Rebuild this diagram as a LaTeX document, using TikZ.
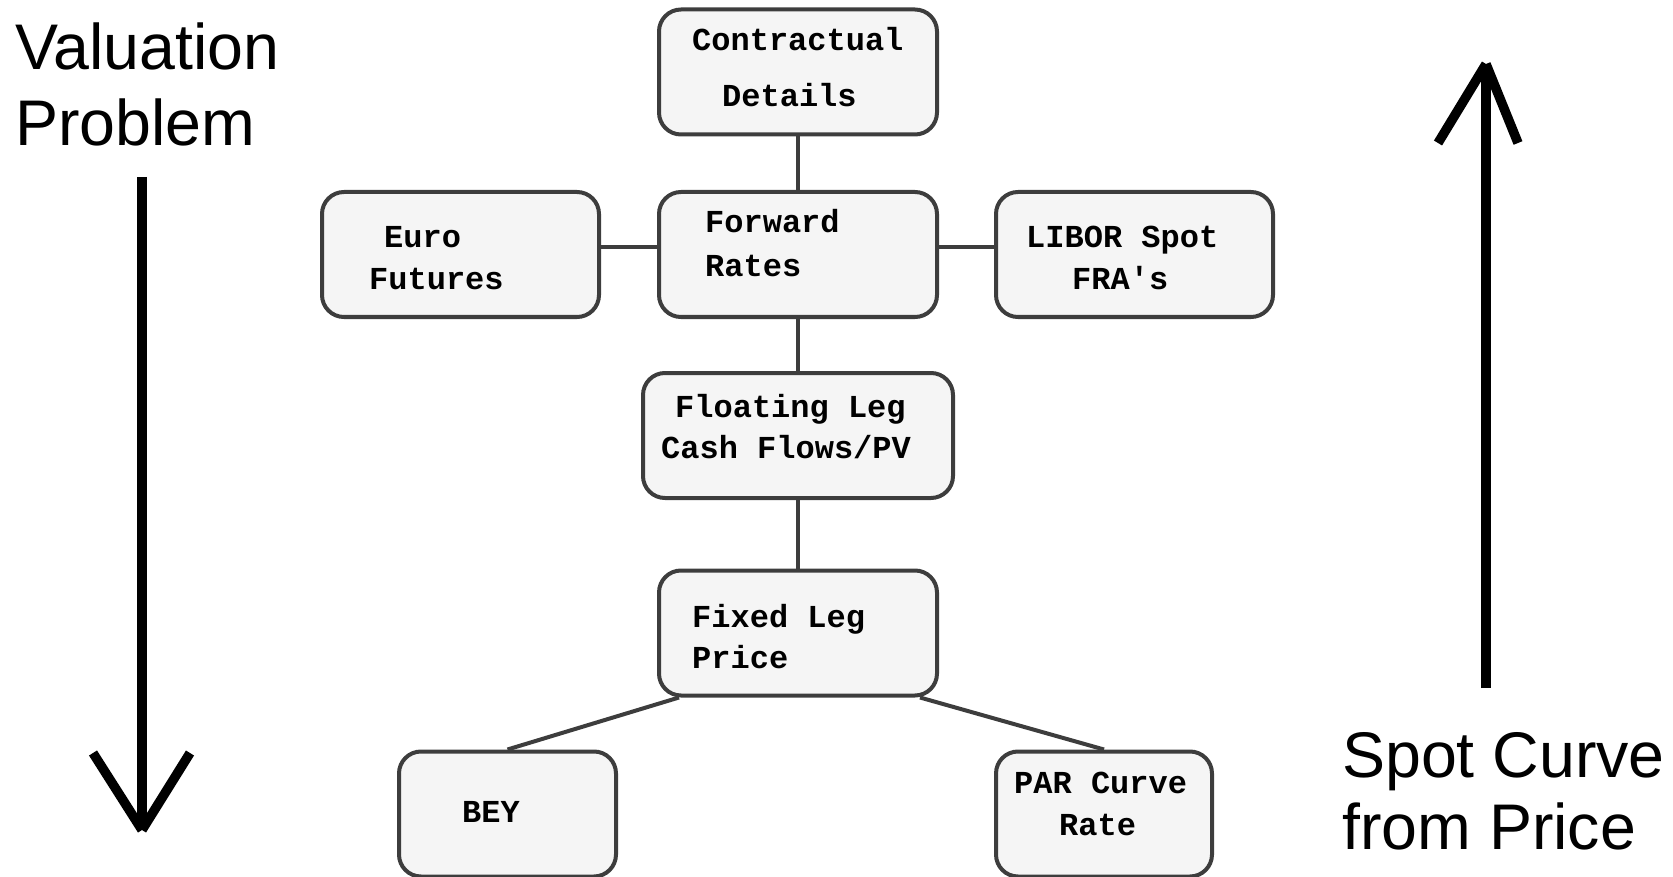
\documentclass[tikz,border=0pt]{standalone}
\usepackage{fontspec}
\setmainfont{Liberation Sans}
\newfontfamily\boxfont{Liberation Mono}
\definecolor{edge}{HTML}{3D3D3D}
\definecolor{boxfill}{HTML}{F5F5F5}
\begin{document}
\begin{tikzpicture}[x=1pt,y=-1pt,
  stage/.style={draw=edge, fill=boxfill, line width=4pt, rounded corners=22pt,
    inner sep=0pt, minimum width=#1, minimum height=125pt},
  link/.style={draw=edge, line width=4pt},
  boxtxt/.style={anchor=base west, inner sep=0pt,
    font=\boxfont\bfseries\fontsize{32}{38}\selectfont},
  bigtxt/.style={anchor=base west, inner sep=0pt,
    font=\fontsize{64.5}{76}\selectfont},
  bigarrow/.style={line width=9.5pt, line cap=butt}]
\useasboundingbox (0,0) rectangle (1673,877);

% boxes
\node[stage=278pt] (contract) at (798,72) {};
\node[stage=277pt] (euro)     at (460.5,254.5) {};
\node[stage=278pt] (fwd)      at (798,254.5) {};
\node[stage=277pt] (libor)    at (1134.5,254.5) {};
\node[stage=310pt] (float)    at (798,435.5) {};
\node[stage=278pt] (fixed)    at (798,633) {};
\node[stage=217pt] (bey)      at (507.5,814) {};
\node[stage=216pt] (par)      at (1104,814) {};

% connectors
\draw[link] (contract.south) -- (fwd.north);
\draw[link] ([yshift=7pt]euro.east) -- ([yshift=7pt]fwd.west);
\draw[link] ([yshift=7pt]fwd.east) -- ([yshift=7pt]libor.west);
\draw[link] (fwd.south) -- (float.north);
\draw[link] (float.south) -- (fixed.north);
\draw[link] ([xshift=-119pt]fixed.south) -- (bey.north);
\draw[link] ([xshift=122pt]fixed.south) -- (par.north);

% box texts
\node[boxtxt] (contract-a) at (692,51)  {Contractual};
\node[boxtxt] (contract-b) at (722,107) {Details};
\node[boxtxt] (euro-a)     at (384,248) {Euro};
\node[boxtxt] (euro-b)     at (369,290) {Futures};
\node[boxtxt] (fwd-a)      at (705,233) {Forward};
\node[boxtxt] (fwd-b)      at (705,277) {Rates};
\node[boxtxt] (libor-a)    at (1026,248) {LIBOR Spot};
\node[boxtxt] (libor-b)    at (1072,290) {FRA's};
\node[boxtxt] (float-a)    at (675,417) {Floating Leg};
\node[boxtxt] (float-b)    at (661,458) {Cash Flows/PV};
\node[boxtxt] (fixed-a)    at (692,627) {Fixed Leg};
\node[boxtxt] (fixed-b)    at (692,668) {Price};
\node[boxtxt] (bey-a)      at (462,822) {BEY};
\node[boxtxt] (par-a)      at (1014,793) {PAR Curve};
\node[boxtxt] (par-b)      at (1059,835) {Rate};

% side labels
\node[bigtxt] (val-a)  at (15,70)   {Valuation};
\node[bigtxt] (val-b)  at (15,146)  {Problem};
\node[bigtxt] (spot-a) at (1342,777) {Spot Curve};
\node[bigtxt] (spot-b) at (1342,849) {from Price};

% direction arrows
\coordinate (down-top) at (142,177);
\coordinate (down-tip) at (142,830);
\coordinate (down-l)   at (93,753);
\coordinate (down-r)   at (190,753);
\draw[bigarrow] (down-top) -- (down-tip);
\draw[bigarrow] (down-l) -- (down-tip);
\draw[bigarrow] (down-r) -- (down-tip);

\coordinate (up-bot) at (1486,688);
\coordinate (up-tip) at (1486,64);
\coordinate (up-l)   at (1438,143);
\coordinate (up-r)   at (1518,143);
\draw[bigarrow] (up-bot) -- (up-tip);
\draw[bigarrow] (up-l) -- (up-tip);
\draw[bigarrow] (up-r) -- (up-tip);
\end{tikzpicture}
\end{document}
